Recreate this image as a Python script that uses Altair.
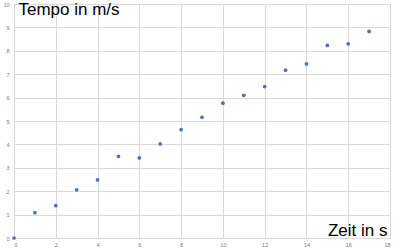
import altair as alt
import pandas as pd

zeit = [0, 1, 2, 3, 4, 5, 6, 7, 8, 9, 10, 11, 12, 13, 14, 15, 16, 17]
tempo = [0.0, 1.08, 1.38, 2.06, 2.48, 3.49, 3.42, 4.02, 4.63, 5.16, 5.76, 6.10,
         6.47, 7.17, 7.44, 8.23, 8.30, 8.83]
x_ticks = [0, 2, 4, 6, 8, 10, 12, 14, 16, 18]
y_ticks = [0, 1, 2, 3, 4, 5, 6, 7, 8, 9, 10]

df = pd.DataFrame({"Zeit": zeit, "Tempo": tempo})

font = "Liberation Sans"

chart = alt.Chart(df).mark_circle(size=14, color="#4472C4", opacity=1).encode(
    x=alt.X("Zeit:Q",
            scale=alt.Scale(domain=[0, 18], nice=False, zero=True),
            axis=alt.Axis(values=x_ticks, title="Zeit in s", grid=True,
                          gridColor="#d9d9d9", domain=False, ticks=False,
                          labelFontSize=5.5, labelColor="#777777", labelFont=font,
                          labelPadding=4,
                          titleFont=font, titleFontSize=17, titleFontWeight="normal",
                          titleColor="#000000", titleAlign="right",
                          titleBaseline="alphabetic", titleX=373, titleY=-3)),
    y=alt.Y("Tempo:Q",
            scale=alt.Scale(domain=[0, 10], nice=False, zero=True),
            axis=alt.Axis(values=y_ticks, title="Tempo in m/s", grid=True,
                          gridColor="#d9d9d9", domain=False, ticks=False,
                          labelFontSize=5.5, labelColor="#777777", labelFont=font,
                          labelPadding=5,
                          titleFont=font, titleFontSize=17, titleFontWeight="normal",
                          titleColor="#000000", titleAngle=0, titleAlign="left",
                          titleBaseline="alphabetic", titleX=4, titleY=10)),
).properties(
    width=376,
    height=234,
    autosize=alt.AutoSizeParams(type="none"),
    padding={"left": 14, "top": 4, "right": 10, "bottom": 14},
    background="white",
).configure_view(stroke="#d9d9d9")

chart.save("out.html", embed_options={"renderer": "svg", "actions": False})
